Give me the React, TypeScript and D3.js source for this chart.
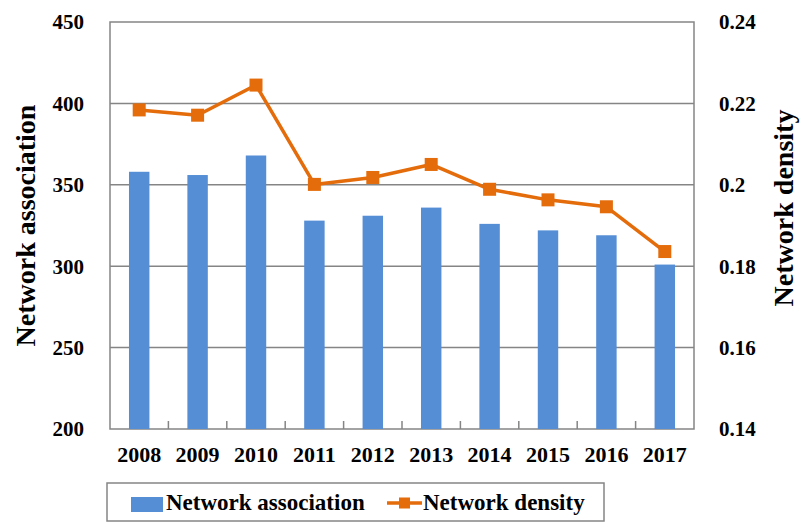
import React from 'react';
import * as d3 from 'd3';
import { useEffect, useRef } from 'react';

const years = ['2008', '2009', '2010', '2011', '2012', '2013', '2014', '2015', '2016', '2017'];
const association = [358, 356, 368, 328, 331, 336, 326, 322, 319, 301];
const density = [0.2184, 0.2171, 0.2245, 0.2001, 0.2018, 0.205, 0.1989, 0.1963, 0.1946, 0.1836];
const leftTicks = [200, 250, 300, 350, 400, 450];
const rightTicks = [0.14, 0.16, 0.18, 0.2, 0.22, 0.24];
const seriesNames = ['Network association', 'Network density'];

const width = 801;
const height = 522;
const blue = '#558ED5';
const orange = '#E46C0A';
const grey = '#858585';
const font = '"Liberation Serif", "Times New Roman", serif';

const App = () => {
    const chartRef = useRef<SVGSVGElement | null>(null);

    useEffect((): void => {
        const svg = d3.select(chartRef.current);
        svg.selectAll('*').remove();

        const left = 110, right = 694, top = 22, bottom = 429;

        const xScale = d3.scaleBand()
                        .domain(years)
                        .range([left, right])
                        .paddingInner(0.65)
                        .paddingOuter(0.325);
        const step = xScale.step();

        const yLeft = d3.scaleLinear().domain([200, 450]).range([bottom, top]);
        const yRight = d3.scaleLinear().domain([0.14, 0.24]).range([bottom, top]);

        // gridlines
        svg.append('g')
            .selectAll('line')
            .data(leftTicks.slice(1, -1))
            .enter()
            .append('line')
            .attr('x1', left).attr('x2', right)
            .attr('y1', d => yLeft(d)).attr('y2', d => yLeft(d))
            .attr('stroke', grey).attr('stroke-width', 1.5);

        // plot frame
        svg.append('rect')
            .attr('x', left).attr('y', top)
            .attr('width', right - left).attr('height', bottom - top)
            .attr('fill', 'none')
            .attr('stroke', grey).attr('stroke-width', 1.5);

        // category ticks
        svg.append('g')
            .selectAll('line')
            .data(years.slice(1))
            .enter()
            .append('line')
            .attr('x1', (d) => (xScale(d) ?? 0) - step * 0.325)
            .attr('x2', (d) => (xScale(d) ?? 0) - step * 0.325)
            .attr('y1', bottom - 8).attr('y2', bottom)
            .attr('stroke', grey).attr('stroke-width', 1.5);

        // bars
        svg.append('g')
            .selectAll('rect')
            .data(association)
            .enter()
            .append('rect')
            .attr('x', (d, i) => xScale(years[i]) ?? 0)
            .attr('y', d => yLeft(d))
            .attr('width', xScale.bandwidth())
            .attr('height', d => bottom - yLeft(d))
            .attr('fill', blue);

        // line
        const cx = (i: number) => (xScale(years[i]) ?? 0) + xScale.bandwidth() / 2;
        const line = d3.line<number>()
                        .x((d, i) => cx(i))
                        .y(d => yRight(d));

        svg.append('path')
            .datum(density)
            .attr('d', line)
            .attr('fill', 'none')
            .attr('stroke', orange)
            .attr('stroke-width', 3.5)
            .attr('stroke-linejoin', 'round');

        svg.append('g')
            .selectAll('rect')
            .data(density)
            .enter()
            .append('rect')
            .attr('x', (d, i) => cx(i) - 6.5)
            .attr('y', d => yRight(d) - 6.5)
            .attr('width', 13).attr('height', 13)
            .attr('fill', orange);

        // left tick labels
        svg.append('g')
            .selectAll('text')
            .data(leftTicks)
            .enter()
            .append('text')
            .attr('x', 84)
            .attr('y', d => yLeft(d))
            .attr('dy', '0.35em')
            .style('text-anchor', 'end')
            .style('font-family', font)
            .style('font-weight', 'bold')
            .style('font-size', '21px')
            .text(d => d);

        // right tick labels
        svg.append('g')
            .selectAll('text')
            .data(rightTicks)
            .enter()
            .append('text')
            .attr('x', 719)
            .attr('y', d => yRight(d))
            .attr('dy', '0.35em')
            .style('text-anchor', 'start')
            .style('font-family', font)
            .style('font-weight', 'bold')
            .style('font-size', '21px')
            .text(d => String(+d.toFixed(2)));

        // x labels
        svg.append('g')
            .selectAll('text')
            .data(years)
            .enter()
            .append('text')
            .attr('x', (d, i) => cx(i))
            .attr('y', 462)
            .style('text-anchor', 'middle')
            .style('font-family', font)
            .style('font-weight', 'bold')
            .style('font-size', '22px')
            .text(d => d);

        // axis titles
        svg.append('text')
            .attr('transform', `translate(35, ${(top + bottom) / 2}) rotate(-90)`)
            .style('text-anchor', 'middle')
            .style('font-family', font)
            .style('font-weight', 'bold')
            .style('font-size', '28px')
            .text(seriesNames[0]);

        svg.append('text')
            .attr('transform', `translate(793, 208) rotate(-90)`)
            .style('text-anchor', 'middle')
            .style('font-family', font)
            .style('font-weight', 'bold')
            .style('font-size', '28px')
            .text(seriesNames[1]);

        // legend
        const legend = svg.append('g');
        legend.append('rect')
            .attr('x', 107).attr('y', 483)
            .attr('width', 497).attr('height', 38)
            .attr('fill', 'white')
            .attr('stroke', grey).attr('stroke-width', 1.5);
        legend.append('rect')
            .attr('x', 131).attr('y', 497)
            .attr('width', 32).attr('height', 15)
            .attr('fill', blue);
        legend.append('text')
            .attr('x', 166).attr('y', 510)
            .style('font-family', font)
            .style('font-weight', 'bold')
            .style('font-size', '23px')
            .text(seriesNames[0]);
        legend.append('line')
            .attr('x1', 387).attr('x2', 422)
            .attr('y1', 503).attr('y2', 503)
            .attr('stroke', orange).attr('stroke-width', 3.5);
        legend.append('rect')
            .attr('x', 399).attr('y', 497.5)
            .attr('width', 11).attr('height', 11)
            .attr('fill', orange);
        legend.append('text')
            .attr('x', 423).attr('y', 510)
            .style('font-family', font)
            .style('font-weight', 'bold')
            .style('font-size', '23px')
            .text(seriesNames[1]);
    }, []);

    return (
        <svg ref={chartRef} width={width} height={height}
             style={{ position: 'absolute', left: 0, top: 0, background: 'white' }}></svg>
    );
};

export default App;
